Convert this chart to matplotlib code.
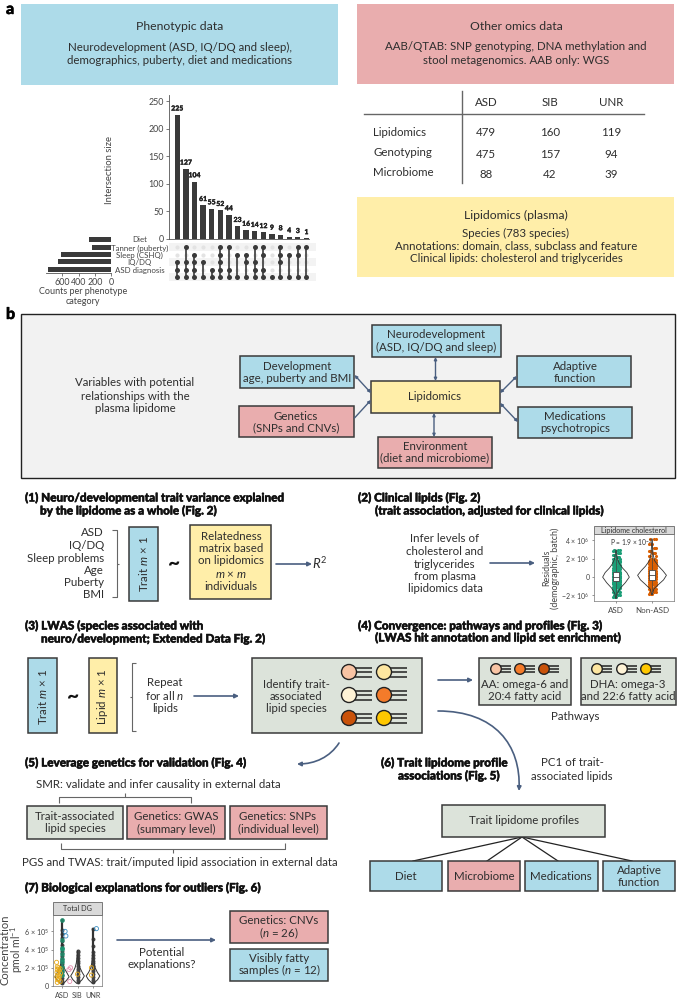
import matplotlib
matplotlib.use('Agg')
import matplotlib.pyplot as plt
import matplotlib.patheffects as pe
from matplotlib.patches import Rectangle, Circle, FancyArrowPatch
from matplotlib.path import Path

plt.rcParams['font.family'] = ['Lato', 'DejaVu Sans']
plt.rcParams['mathtext.fontset'] = 'custom'
plt.rcParams['mathtext.rm'] = 'Lato'
plt.rcParams['mathtext.it'] = 'Lato:italic'
plt.rcParams['mathtext.bf'] = 'Lato:bold'

W, H = 677, 999
BLUE = '#ADDBE9'
PINK = '#E9ADAE'
YELLOW = '#FFEEA9'
SAGE = '#DCE3DA'
DARK = '#3a3a3a'
TXT = '#2e2e2e'
ARROW = '#4a5f80'
FS = 8.3

# upset plot
intersection_sizes = [225, 127, 104, 61, 55, 52, 44, 23, 16, 14, 12, 9, 8, 4, 3, 1]
phenotypes = ['Diet', 'Tanner (puberty)', 'Sleep (CSHQ)', 'IQ/DQ', 'ASD diagnosis']
phenotype_counts = [270, 230, 613, 650, 773]
# rows hit by each intersection column, 0 is the top row
membership = [[2, 3, 4], [0, 2, 3, 4], [1, 2, 3, 4], [2, 4], [3, 4], [0, 1, 2, 3, 4],
              [0, 3, 4], [1, 4], [1, 2, 4], [0, 2, 3, 4], [0, 1, 3, 4], [4],
              [0, 1, 2, 4], [1, 4], [0, 1, 4], [0, 4]]

# sample table
table_cols = ['ASD', 'SIB', 'UNR']
table_rows = ['Lipidomics', 'Genotyping', 'Microbiome']
table_vals = [[479, 160, 119], [475, 157, 94], [88, 42, 39]]

# lipidome cholesterol panel, units of 1e6
chol_ticks = [-2, 0, 2, 4]
chol_groups = ['ASD', 'Non-ASD']
chol_asd_vy = [-2.3, -1.8, -1.2, -0.6, 0, 0.5, 1.0, 1.5, 2.0, 2.5, 3.0]
chol_asd_vw = [0.01, 0.03, 0.12, 0.26, 0.37, 0.30, 0.18, 0.09, 0.04, 0.02, 0.0]
chol_non_vy = [-1.9, -1.3, -0.8, -0.3, 0.2, 0.7, 1.2, 1.8, 2.5, 3.3, 4.2]
chol_non_vw = [0.01, 0.05, 0.18, 0.32, 0.40, 0.30, 0.18, 0.07, 0.03, 0.015, 0.0]
chol_asd_pts = [-2.2, -2.0, -1.8, -1.6, -1.5, -1.3, -1.2, -1.1, -1.0, -0.9, -0.8, -0.7, -0.6, -0.55, -0.5,
                -0.4, -0.35, -0.3, -0.2, -0.15, -0.1, 0, 0.05, 0.1, 0.15, 0.2, 0.3, 0.35, 0.4, 0.5, 0.55,
                0.6, 0.7, 0.8, 0.9, 1.0, 1.1, 1.2, 1.3, 1.4, 1.5, 1.6, 1.7, 1.8, 1.9, 2.0, 2.2, 2.4, 2.6, 2.8, 3.0]
chol_non_pts = [-1.8, -1.6, -1.4, -1.3, -1.2, -1.0, -0.9, -0.8, -0.7, -0.6, -0.5, -0.4, -0.3, -0.2, -0.1,
                0, 0.05, 0.1, 0.2, 0.25, 0.3, 0.4, 0.5, 0.6, 0.7, 0.8, 0.9, 1.0, 1.1, 1.2, 1.3, 1.4, 1.5,
                1.6, 1.7, 1.8, 1.9, 2.0, 2.3, 2.6, 2.9, 3.2, 3.6, 4.2]
chol_box = [[-0.4, 0.0, 0.6], [-0.3, 0.25, 0.8]]
jitter = [-0.09, 0.05, -0.03, 0.1, 0.0, -0.06, 0.07]

# total DG panel, units of 1e5
dg_ticks = [0, 2, 4, 6]
dg_groups = ['ASD', 'SIB', 'UNR']
dg_vy = [[0.2, 0.6, 1.0, 1.5, 2.0, 2.6, 3.5, 5.0, 7.3],
         [0.3, 0.7, 1.1, 1.5, 2.0, 2.5, 3.0, 3.9],
         [0.3, 0.7, 1.1, 1.5, 2.0, 2.6, 3.6, 5.0, 6.3]]
dg_vw = [[0.05, 0.28, 0.46, 0.30, 0.13, 0.07, 0.03, 0.01, 0.0],
         [0.06, 0.30, 0.44, 0.30, 0.16, 0.08, 0.04, 0.0],
         [0.05, 0.30, 0.44, 0.28, 0.14, 0.07, 0.03, 0.01, 0.0]]
dg_dark = [[0.3, 0.6, 0.9, 1.2, 1.5, 1.8, 2.1, 2.4, 2.7, 3.0, 3.3, 3.6, 3.9, 4.2, 4.5, 4.9, 5.3, 5.7, 6.1, 7.3],
           [0.4, 0.7, 1.0, 1.3, 1.6, 1.9, 2.2, 2.5, 2.8, 3.1, 3.4, 3.7, 3.9],
           [0.4, 0.7, 1.0, 1.3, 1.6, 1.9, 2.2, 2.5, 2.8, 3.1, 3.4, 3.7, 4.4, 5.2, 6.3]]
dg_teal_y = [7.3, 5.1, 4.2, 4.1, 3.5, 3.0, 2.6, 2.1, 1.6, 1.2]
dg_orange_y = [2.6, 2.1, 2.0, 1.9, 1.8, 1.7, 1.5, 1.4, 1.2, 1.1, 1.0, 0.8, 0.7, 0.5, 0.4, 1.3, 2.0, 1.2]
dg_orange_g = [0, 0, 0, 0, 0, 0, 0, 0, 0, 0, 0, 0, 0, 0, 0, 1, 2, 2]
dg_orange_off = [-0.35, -0.3, -0.22, -0.12, -0.3, -0.18, -0.32, -0.1, -0.26, -0.15, -0.33, -0.2, -0.28, -0.12, -0.3, 0.0, -0.1, -0.1]
dg_blue_y = [6.0, 5.5, 6.3]
dg_blue_g = [0, 0, 2]
dg_blue_off = [0.2, 0.25, 0.22]
dg_pink_y = [2.0, 1.8, 0.5]
dg_pink_off = [0.55, 0.45, 0.5]

fig = plt.figure(figsize=(W / 100, H / 100), dpi=100, facecolor='white')
ax = fig.add_axes([0, 0, 1, 1])
ax.set_xlim(0, W)
ax.set_ylim(H, 0)
ax.axis('off')

HEAVY = [pe.withStroke(linewidth=0.35, foreground='#111111')]


def px_axes(x0, y0, x1, y1):
    a = fig.add_axes([x0 / W, 1 - y1 / H, (x1 - x0) / W, (y1 - y0) / H])
    a.patch.set_alpha(0)
    return a


def txt(x, y, s, size=FS, ha='center', **kw):
    kw.setdefault('color', TXT)
    ax.text(x, y, s, fontsize=size, ha=ha, va='center', **kw)


def lines(x, ys, strs, **kw):
    for y, s in zip(ys, strs):
        txt(x, y, s, **kw)


def box(x0, y0, x1, y1, color, lw=1.1, ec=DARK, zorder=2):
    ax.add_patch(Rectangle((x0, y0), x1 - x0, y1 - y0, fc=color, ec=ec, lw=lw, zorder=zorder))


def arrow(x0, y0, x1, y1, style='-|>', scale=6, lw=1.2):
    ax.annotate('', xy=(x1, y1), xytext=(x0, y0),
                arrowprops=dict(arrowstyle=style, color=ARROW, lw=lw, mutation_scale=scale, shrinkA=0, shrinkB=0))


def header(x, y, s):
    ax.text(x, y, s, fontsize=8.45, fontweight='black', ha='left', va='center', color='#111111', path_effects=HEAVY)


def lipid(cx, cy, r, color, length, gap):
    for d in (-gap, 0, gap):
        ax.plot([cx, cx + length], [cy + d, cy + d], color='#222222', lw=1.1, zorder=3, solid_capstyle='butt')
    ax.add_patch(Circle((cx, cy), r, fc=color, ec='#222222', lw=1.0, zorder=4))


def bracket(pts, color='#666666'):
    ax.plot([p[0] for p in pts], [p[1] for p in pts], color=color, lw=0.8, solid_capstyle='butt')


# panel letters
ax.text(6, 9, 'a', fontsize=11.5, fontweight='black', ha='left', va='center', color='black', path_effects=HEAVY)
ax.text(6, 314, 'b', fontsize=11.5, fontweight='black', ha='left', va='center', color='black', path_effects=HEAVY)

# top coloured boxes
box(21, 4, 338, 85, BLUE, lw=0)
txt(180, 26, 'Phenotypic data', size=8.8)
lines(180, [47, 60], ['Neurodevelopment (ASD, IQ/DQ and sleep),', 'demographics, puberty, diet and medications'])
box(357, 4, 674, 84, PINK, lw=0)
txt(516, 26, 'Other omics data', size=8.8)
lines(516, [47, 60], ['AAB/QTAB: SNP genotyping, DNA methylation and', 'stool metagenomics. AAB only: WGS'])
box(357, 197, 674, 277, YELLOW, lw=0)
txt(516, 215, 'Lipidomics (plasma)', size=8.8)
lines(516, [233, 246, 259], ['Species (783 species)', 'Annotations: domain, class, subclass and feature',
                             'Clinical lipids: cholesterol and triglycerides'])

# table
ax.plot([364, 644], [114, 114], color='#666666', lw=1.0)
ax.plot([462, 462], [91, 183], color='#666666', lw=1.0)
for cx, c in zip([486, 550, 611], table_cols):
    txt(cx, 102, c)
for ry, ly, r, vals in zip([133, 154, 174], [132, 152, 172], table_rows, table_vals):
    txt(373, ly, r, ha='left')
    for cx, v in zip([486, 550, 611], vals):
        txt(cx, ry, str(v))

# upset: intersection bars
a_bar = px_axes(169, 95, 309, 239)
xs = list(range(len(intersection_sizes)))
a_bar.bar(xs, intersection_sizes, width=0.62, color=DARK)
for x, v in zip(xs, intersection_sizes):
    a_bar.text(x, v + 6, str(v), ha='center', va='bottom', fontsize=5.0, fontweight='black', color='#222222',
               path_effects=[pe.withStroke(linewidth=0.2, foreground='#222222')])
a_bar.set_xlim(-0.96, 15.3)
a_bar.set_ylim(0, 261)
a_bar.set_yticks([0, 50, 100, 150, 200, 250])
a_bar.set_xticks([])
a_bar.tick_params(axis='y', labelsize=6.4, length=2, width=0.5, pad=2, colors='#444444')
for s in ('top', 'right'):
    a_bar.spines[s].set_visible(False)
for s in ('left', 'bottom'):
    a_bar.spines[s].set_linewidth(0.6)
    a_bar.spines[s].set_color('#555555')
txt(110, 170, 'Intersection size', size=6.8, rotation=90, color='#444444')

# upset: membership dots
row_y = [247, 254.5, 262, 269.5, 277]
a_dot = px_axes(169, 243, 316, 281)
a_dot.set_xlim(-0.96, 16.13)
a_dot.set_ylim(281, 243)
a_dot.axis('off')
for i, y in enumerate(row_y):
    if i % 2 == 0:
        a_dot.axhspan(y - 3.7, y + 3.7, color='#f3f3f3', lw=0, zorder=0)
    a_dot.scatter(xs, [y] * len(xs), s=9, color='#e3e3e3', lw=0, zorder=1)
for x, rows in zip(xs, membership):
    ys = [row_y[r] for r in rows]
    a_dot.plot([x, x], [min(ys), max(ys)], color=DARK, lw=1.2, zorder=2)
    a_dot.scatter([x] * len(ys), ys, s=13, color=DARK, lw=0, zorder=3)

# upset: set size bars
a_set = px_axes(46, 236, 111, 273)
bar_y = [0, 1, 2, 3, 4]
a_set.barh(bar_y, phenotype_counts, height=0.66, color=DARK)
a_set.set_ylim(4.5, -0.5)
a_set.set_xlim(800, 0)
a_set.set_xticks([600, 400, 200, 0])
a_set.set_yticks([])
a_set.tick_params(axis='x', labelsize=6.4, length=2, width=0.5, pad=1.5, colors='#444444')
for s in ('top', 'right', 'left'):
    a_set.spines[s].set_visible(False)
a_set.spines['bottom'].set_linewidth(0.6)
a_set.spines['bottom'].set_color('#555555')
for y, p in zip([240, 248, 255, 262, 270], phenotypes):
    txt(139.5, y, p, size=5.7, color='#444444')
lines(83, [291, 301], ['Counts per phenotype', 'category'], size=6.5, color='#444444')

# panel b grey area
box(21, 314, 675, 478, '#F2F2F2', lw=1.0, ec='#222222', zorder=0)
lines(135, [383, 396, 409], ['Variables with potential', 'relationships with the', 'plasma lipidome'])
box(372, 325, 501, 357, BLUE)
lines(436, [335, 347], ['Neurodevelopment', '(ASD, IQ/DQ and sleep)'])
box(240, 356, 354, 388, BLUE)
lines(297, [366, 378], ['Development', 'age, puberty and BMI'])
box(239, 406, 354, 437, PINK)
lines(296, [416, 428], ['Genetics', '(SNPs and CNVs)'])
box(371, 381, 500, 413, YELLOW)
txt(435, 397, 'Lipidomics')
box(517, 356, 631, 387, BLUE)
lines(575, [366, 378], ['Adaptive', 'function'])
box(518, 407, 632, 438, BLUE)
lines(575, [416, 428], ['Medications', 'psychotropics'])
box(378, 437, 492, 468, PINK)
lines(435, [446, 458], ['Environment', '(diet and microbiome)'])
arrow(435.5, 357, 435.5, 381, '<|-|>', 4, 1.0)
arrow(434, 413, 434, 437, '<|-|>', 4, 1.0)
arrow(354.5, 375, 371, 393, '<|-|>', 4, 1.0)
arrow(354.5, 418, 371, 400, '-|>', 4, 1.0)
arrow(500, 393, 517, 376, '<|-|>', 4, 1.0)
arrow(500, 403, 518, 422, '<|-|>', 4, 1.0)

# (1)
header(25, 498, '(1) Neuro/developmental trait variance explained')
header(40, 511, 'by the lipidome as a whole (Fig. 2)')
for y, s in zip([533, 545.5, 558, 570.5, 583, 595], ['ASD', 'IQ/DQ', 'Sleep problems', 'Age', 'Puberty', 'BMI']):
    txt(104, y, s, ha='right')
bracket([(112, 530), (117, 530), (117, 597), (112, 597)])
bracket([(117, 564), (119, 564)])
box(129, 527, 158, 601, BLUE)
txt(143.5, 564, r'Trait $\mathit{m}$ × 1', rotation=90, zorder=5)
txt(174, 564, '~', size=15, fontweight='black', color='#111111')
box(190, 525, 271, 599, YELLOW)
lines(231, [536, 548.5, 561, 575, 587], ['Relatedness', 'matrix based', 'on lipidomics', r'$\mathit{m}$ × $\mathit{m}$', 'individuals'], zorder=5)
arrow(276, 564, 312, 564)
txt(320, 563, r'$\mathit{R}^{2}$', size=9.5)

# (2)
header(358, 498, '(2) Clinical lipids (Fig. 2)')
header(375, 511, '(trait association, adjusted for clinical lipids)')
lines(445, [539, 551.5, 564, 577, 589], ['Infer levels of', 'cholesterol and', 'triglycerides', 'from plasma', 'lipidomics data'])
arrow(490, 563, 535, 563)
box(594, 526, 674, 534, '#D9D9D9', lw=0.6, ec='#666666')
txt(634, 530, 'Lipidome cholesterol', size=5.2, color='#333333')
a_chol = px_axes(594, 534, 674, 601)
a_chol.set_xlim(-0.61, 1.61)
a_chol.set_ylim(-2.6, 4.7)
for g, (vy, vw, pts, col) in enumerate([(chol_asd_vy, chol_asd_vw, chol_asd_pts, '#1b9e77'),
                                        (chol_non_vy, chol_non_vw, chol_non_pts, '#d95f02')]):
    # same values drawn with shifted offsets to fill the strip like the dense original
    for shift in (0, 2, 4):
        off = [g + jitter[(i + shift) % len(jitter)] for i in range(len(pts))]
        a_chol.scatter(off, pts, s=5, color=col, lw=0, zorder=2)
    a_chol.plot([g + w for w in vw] + [g - w for w in vw[::-1]], list(vy) + list(vy[::-1]),
                color='#333333', lw=0.6, zorder=3)
    a_chol.plot([g, g], [min(pts), max(pts)], color='#444444', lw=0.5, zorder=3)
    q1, med, q3 = chol_box[g]
    a_chol.add_patch(Rectangle((g - 0.07, q1), 0.14, q3 - q1, fc='white', ec='#444444', lw=0.6, zorder=4))
    a_chol.plot([g - 0.07, g + 0.07], [med, med], color='#444444', lw=0.6, zorder=5)
a_chol.set_xticks([0, 1])
a_chol.set_xticklabels(chol_groups)
a_chol.set_yticks(chol_ticks)
a_chol.set_yticklabels(['−2 × 10$^{6}$', '0', '2 × 10$^{6}$', '4 × 10$^{6}$'])
a_chol.tick_params(labelsize=5.0, length=1.5, width=0.4, pad=1.5, colors='#444444')
a_chol.tick_params(axis='x', labelsize=5.8, pad=3)
for s in a_chol.spines.values():
    s.set_linewidth(0.5)
    s.set_color('#777777')
a_chol.text(0.42, 3.8, 'P = 1.9 × 10$^{-2}$', fontsize=4.8, ha='center', va='center', color='#333333', zorder=6)
txt(547, 568, 'Residuals', size=6.4, rotation=90, color='#444444')
txt(555, 568, '(demographic, batch)', size=6.4, rotation=90, color='#444444')

# (3)
header(25, 626, '(3) LWAS (species associated with')
header(41, 639, 'neuro/development; Extended Data Fig. 2)')
box(28, 658, 57, 733, BLUE)
txt(42.5, 697, r'Trait $\mathit{m}$ × 1', rotation=90, zorder=5)
txt(73, 697, '~', size=15, fontweight='black', color='#111111')
box(89, 658, 117, 733, YELLOW)
txt(103, 697, r'Lipid $\mathit{m}$ × 1', rotation=90, zorder=5)
bracket([(136, 663), (132, 663), (132, 731), (136, 731)])
bracket([(130, 697), (132, 697)])
lines(165, [683, 696, 709], ['Repeat', r'for all $\mathit{n}$', 'lipids'])
arrow(194, 696, 239, 696)
box(252, 658, 422, 733, SAGE)
lines(296, [684, 696, 709], ['Identify trait-', 'associated', 'lipid species'], zorder=5)
lip_colors = [['#F8C4A4', '#FDE6A0'], ['#FEF3D6', '#F47B2A'], ['#C9520A', '#FFC800']]
for cy, row in zip([672, 695, 718], lip_colors):
    for cx, c in zip([349, 384], row):
        lipid(cx, cy, 7.5, c, 23, 4.5)

# (4)
header(358, 626, '(4) Convergence: pathways and profiles (Fig. 3)')
header(375, 638, '(LWAS hit annotation and lipid set enrichment)')
arrow(438, 680, 473, 680)
box(479, 658, 571, 705, SAGE)
box(581, 658, 676, 705, SAGE)
for cx, c in zip([496, 520, 544], ['#F8C4A4', '#F47B2A', '#C9520A']):
    lipid(cx, 669, 5.3, c, 15, 3.2)
for cx, c in zip([597, 622, 646], ['#FDE6A0', '#FEF3D6', '#FFC800']):
    lipid(cx, 669, 5.3, c, 15, 3.2)
lines(525, [684, 696], ['AA: omega-6 and', '20:4 fatty acid'], zorder=5)
lines(628, [684, 696], ['DHA: omega-3', 'and 22:6 fatty acid'], zorder=5)
txt(575, 717, 'Pathways')

# curved arrows
curve1 = Path([(438, 711), (495, 711), (521, 745), (519, 791)], [Path.MOVETO, Path.CURVE4, Path.CURVE4, Path.CURVE4])
ax.add_patch(FancyArrowPatch(path=curve1, arrowstyle='-|>', mutation_scale=6, color=ARROW, lw=1.2))
curve2 = Path([(339, 743), (330, 757), (315, 764), (297, 764)], [Path.MOVETO, Path.CURVE4, Path.CURVE4, Path.CURVE4])
ax.add_patch(FancyArrowPatch(path=curve2, arrowstyle='-|>', mutation_scale=6, color=ARROW, lw=1.2))

# (5)
header(25, 763, '(5) Leverage genetics for validation (Fig. 4)')
txt(36, 785, 'SMR: validate and infer causality in external data', ha='left')
bracket([(59, 803), (59, 797), (191, 797), (191, 803)])
bracket([(125, 797), (125, 793)])
box(27, 806, 123, 839, SAGE)
lines(75, [816, 829], ['Trait-associated', 'lipid species'], zorder=5)
box(127, 806, 225, 839, PINK)
lines(176, [816, 829], ['Genetics: GWAS', '(summary level)'], zorder=5)
box(230, 806, 327, 839, PINK)
lines(278, [816, 829], ['Genetics: SNPs', '(individual level)'], zorder=5)
bracket([(61, 843), (61, 849), (285, 849), (285, 843)])
bracket([(173, 849), (173, 853)])
txt(22, 862, 'PGS and TWAS: trait/imputed lipid association in external data', ha='left')

# (6)
header(381, 763, '(6) Trait lipidome profile')
header(398, 776, 'associations (Fig. 5)')
lines(572, [763, 776], ['PC1 of trait-', 'associated lipids'])
box(442, 805, 605, 837, SAGE)
txt(524, 821, 'Trait lipidome profiles', zorder=5)
for x_end in [413, 487, 558, 632]:
    ax.plot([522, x_end], [837, 861], color='#222222', lw=0.9, zorder=1)
for (x0, x1), c in zip([(370, 442), (448, 520), (525, 598), (603, 675)], [BLUE, PINK, BLUE, BLUE]):
    box(x0, 861, x1, 891, c)
txt(406, 876, 'Diet', zorder=5)
txt(484, 876, 'Microbiome', zorder=5)
txt(561, 876, 'Medications', zorder=5)
lines(639, [870, 882], ['Adaptive', 'function'], zorder=5)

# (7)
header(25, 888, '(7) Biological explanations for outliers (Fig. 6)')
box(53, 902, 102, 915, '#D9D9D9', lw=0.6, ec='#666666')
txt(77.5, 908.5, 'Total DG', size=5.2, color='#333333')
a_dg = px_axes(53, 915, 102, 986)
a_dg.set_xlim(-0.58, 2.58)
a_dg.set_ylim(0, 7.8)
for g in range(3):
    vy, vw = dg_vy[g], dg_vw[g]
    a_dg.plot([g + w for w in vw] + [g - w for w in vw[::-1]], vy + vy[::-1], color='#333333', lw=0.7, zorder=3)
    a_dg.plot([g, g], [min(dg_dark[g]), max(dg_dark[g])], color='#444444', lw=1.6, zorder=2)
    a_dg.scatter([g] * len(dg_dark[g]), dg_dark[g], s=8, color='#444444', lw=0, zorder=2)
a_dg.scatter([0] * len(dg_teal_y), dg_teal_y, s=8, fc='#1b9e77', ec='#1b9e77', lw=0.5, alpha=0.7, zorder=4)
a_dg.scatter([g + o for g, o in zip(dg_orange_g, dg_orange_off)], dg_orange_y, s=9, fc='none', ec='#e6a817', lw=0.6, zorder=4)
a_dg.scatter([g + o for g, o in zip(dg_blue_g, dg_blue_off)], dg_blue_y, s=9, fc='none', ec='#3b8fc4', lw=0.6, zorder=4)
a_dg.scatter(dg_pink_off, dg_pink_y, s=9, fc='none', ec='#e58fb0', lw=0.6, zorder=4)
a_dg.set_xticks([0, 1, 2])
a_dg.set_xticklabels(dg_groups)
a_dg.set_yticks(dg_ticks)
a_dg.set_yticklabels(['0', '2 × 10$^{5}$', '4 × 10$^{5}$', '6 × 10$^{5}$'])
a_dg.tick_params(labelsize=5.2, length=1.5, width=0.4, pad=1.5, colors='#444444')
a_dg.tick_params(axis='x', pad=3)
for s in a_dg.spines.values():
    s.set_linewidth(0.5)
    s.set_color('#777777')
txt(5, 950, 'Concentration', size=8.0, rotation=90, color='#444444')
txt(17, 950, 'pmol ml$^{-1}$', size=7.6, rotation=90, color='#444444')
arrow(117, 940, 216, 940)
lines(162, [952, 965], ['Potential', 'explanations?'])
box(230, 911, 328, 943, PINK)
lines(279, [920, 933], ['Genetics: CNVs', r'($\mathit{n}$ = 26)'], zorder=5)
box(230, 949, 328, 981, BLUE)
lines(279, [958, 970], ['Visibly fatty', r'samples ($\mathit{n}$ = 12)'], zorder=5)

plt.savefig('out.png', dpi=100)
plt.close()
